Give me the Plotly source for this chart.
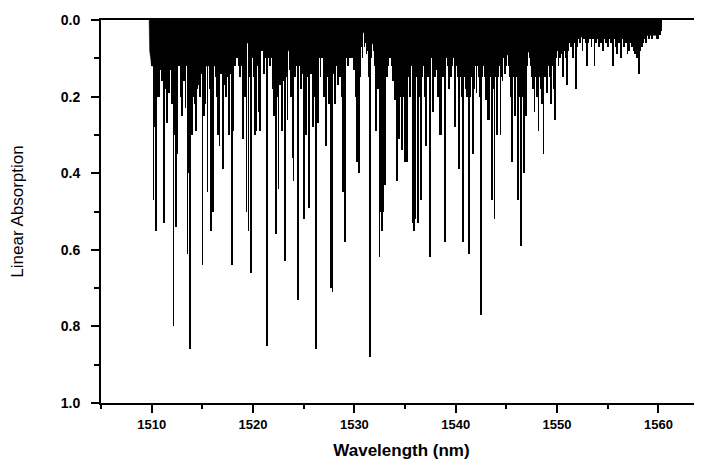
import plotly.graph_objects as go

# Absorption lines: wavelength (nm) and linear absorption depth
line_wl = [
    1509.95, 1510.05, 1510.18, 1510.30, 1510.42, 1510.50, 1510.58, 1510.70, 1510.84, 1511.00,
    1511.12, 1511.24, 1511.38, 1511.50, 1511.62, 1511.73, 1511.85, 1512.00, 1512.16, 1512.28,
    1512.39, 1512.55, 1512.70, 1512.85, 1512.98, 1513.10, 1513.22, 1513.34, 1513.45, 1513.54,
    1513.70, 1513.82, 1513.95, 1514.12, 1514.25, 1514.37, 1514.50, 1514.65, 1514.79, 1514.90,
    1515.02, 1515.15, 1515.30, 1515.40, 1515.51, 1515.62, 1515.72, 1515.85, 1515.96, 1516.08,
    1516.20, 1516.35, 1516.46, 1516.57, 1516.70, 1516.85, 1517.00, 1517.12, 1517.30, 1517.45,
    1517.56, 1517.66, 1517.80, 1517.92, 1518.05, 1518.20, 1518.30, 1518.40, 1518.55, 1518.65,
    1518.75, 1518.90, 1519.04, 1519.20, 1519.36, 1519.56, 1519.68, 1519.80, 1519.95, 1520.10,
    1520.20, 1520.29, 1520.42, 1520.55, 1520.72, 1520.90, 1521.05, 1521.20, 1521.34, 1521.50,
    1521.60, 1521.70, 1521.82, 1521.95, 1522.10, 1522.26, 1522.40, 1522.52, 1522.68, 1522.86,
    1523.00, 1523.15, 1523.28, 1523.41, 1523.60, 1523.75, 1523.90, 1524.00, 1524.12, 1524.20,
    1524.32, 1524.44, 1524.56, 1524.65, 1524.75, 1524.85, 1524.95, 1525.06, 1525.23, 1525.35,
    1525.49, 1525.60, 1525.70, 1525.80, 1525.90, 1526.05, 1526.20, 1526.32, 1526.44, 1526.55,
    1526.66, 1526.77, 1526.87, 1526.97, 1527.08, 1527.20, 1527.32, 1527.42, 1527.53, 1527.68,
    1527.85, 1527.98, 1528.09, 1528.20, 1528.30, 1528.42, 1528.52, 1528.62, 1528.74, 1528.85,
    1528.98, 1529.11, 1529.22, 1529.34, 1529.45, 1529.56, 1529.67, 1529.80, 1529.93, 1530.05,
    1530.15, 1530.26, 1530.43, 1530.55, 1530.66, 1530.80, 1530.99, 1531.10, 1531.20, 1531.30,
    1531.42, 1531.55, 1531.66, 1531.80, 1531.90, 1532.02, 1532.14, 1532.25, 1532.35, 1532.47,
    1532.63, 1532.76, 1532.86, 1532.96, 1533.06, 1533.18, 1533.29, 1533.40, 1533.55, 1533.66,
    1533.78, 1533.90, 1534.01, 1534.11, 1534.21, 1534.32, 1534.44, 1534.55, 1534.67, 1534.78,
    1534.90, 1535.00, 1535.10, 1535.20, 1535.30, 1535.42, 1535.52, 1535.62, 1535.75, 1535.88,
    1536.00, 1536.12, 1536.25, 1536.38, 1536.50, 1536.60, 1536.72, 1536.84, 1536.95, 1537.06,
    1537.18, 1537.30, 1537.46, 1537.58, 1537.72, 1537.85, 1537.95, 1538.06, 1538.18, 1538.28,
    1538.40, 1538.55, 1538.65, 1538.75, 1538.85, 1538.97, 1539.08, 1539.20, 1539.32, 1539.44,
    1539.55, 1539.66, 1539.78, 1539.96, 1540.08, 1540.20, 1540.35, 1540.48, 1540.58, 1540.69,
    1540.80, 1540.92, 1541.05, 1541.15, 1541.28, 1541.40, 1541.52, 1541.67, 1541.80, 1541.92,
    1542.05, 1542.18, 1542.30, 1542.42, 1542.52, 1542.64, 1542.75, 1542.88, 1543.00, 1543.15,
    1543.30, 1543.42, 1543.55, 1543.68, 1543.82, 1543.95, 1544.08, 1544.20, 1544.30, 1544.41,
    1544.52, 1544.62, 1544.75, 1544.86, 1544.98, 1545.10, 1545.22, 1545.32, 1545.43, 1545.54,
    1545.66, 1545.76, 1545.86, 1545.98, 1546.12, 1546.25, 1546.45, 1546.58, 1546.71, 1546.82,
    1546.94, 1547.05, 1547.16, 1547.28, 1547.40, 1547.52, 1547.64, 1547.77, 1547.90, 1548.02,
    1548.16, 1548.28, 1548.40, 1548.52, 1548.66, 1548.78, 1548.90, 1549.02, 1549.14, 1549.26,
    1549.41, 1549.54, 1549.66, 1549.78, 1549.90, 1550.02, 1550.15, 1550.28, 1550.40, 1550.56,
    1550.70, 1550.85, 1550.98, 1551.12, 1551.25, 1551.40, 1551.55, 1551.70, 1551.88, 1552.00,
    1552.15, 1552.30, 1552.50, 1552.65, 1552.80, 1552.93, 1553.10, 1553.25, 1553.40, 1553.55,
    1553.69, 1553.85, 1554.00, 1554.15, 1554.30, 1554.50, 1554.65, 1554.80, 1555.00, 1555.15,
    1555.30, 1555.50, 1555.65, 1555.80, 1555.95, 1556.10, 1556.30, 1556.45, 1556.60, 1556.80,
    1556.95, 1557.10, 1557.25, 1557.40, 1557.55, 1557.70, 1557.85, 1558.06, 1558.20, 1558.35,
    1558.50, 1558.65, 1558.80, 1558.95, 1559.10, 1559.25, 1559.40, 1559.55, 1559.70, 1559.85,
    1560.00, 1560.15, 1560.25,
]
line_depth = [
    0.06, 0.12, 0.47, 0.28, 0.55, 0.20, 0.13, 0.20, 0.13, 0.16,
    0.10, 0.53, 0.18, 0.27, 0.14, 0.19, 0.13, 0.22, 0.80, 0.30,
    0.54, 0.35, 0.12, 0.20, 0.25, 0.15, 0.16, 0.23, 0.12, 0.61,
    0.40, 0.86, 0.30, 0.20, 0.22, 0.29, 0.18, 0.17, 0.20, 0.14,
    0.64, 0.25, 0.22, 0.12, 0.45, 0.10, 0.18, 0.55, 0.15, 0.50,
    0.09, 0.15, 0.20, 0.30, 0.33, 0.14, 0.39, 0.17, 0.20, 0.15,
    0.12, 0.30, 0.14, 0.64, 0.29, 0.12, 0.10, 0.08, 0.10, 0.12,
    0.15, 0.12, 0.31, 0.20, 0.50, 0.55, 0.15, 0.66, 0.10, 0.15,
    0.30, 0.29, 0.12, 0.24, 0.29, 0.08, 0.14, 0.10, 0.85, 0.10,
    0.08, 0.12, 0.10, 0.18, 0.25, 0.56, 0.20, 0.44, 0.17, 0.29,
    0.16, 0.63, 0.15, 0.26, 0.13, 0.20, 0.36, 0.42, 0.15, 0.08,
    0.12, 0.73, 0.12, 0.08, 0.18, 0.08, 0.14, 0.52, 0.30, 0.15,
    0.49, 0.10, 0.14, 0.12, 0.28, 0.20, 0.86, 0.12, 0.27, 0.10,
    0.15, 0.10, 0.08, 0.20, 0.12, 0.33, 0.10, 0.15, 0.22, 0.70,
    0.71, 0.14, 0.22, 0.10, 0.12, 0.17, 0.10, 0.15, 0.20, 0.45,
    0.15, 0.58, 0.10, 0.12, 0.08, 0.10, 0.08, 0.10, 0.13, 0.12,
    0.20, 0.37, 0.40, 0.15, 0.07, 0.10, 0.07, 0.06, 0.09, 0.08,
    0.15, 0.88, 0.10, 0.04, 0.08, 0.12, 0.29, 0.12, 0.18, 0.62,
    0.50, 0.55, 0.50, 0.20, 0.43, 0.15, 0.12, 0.08, 0.10, 0.12,
    0.16, 0.12, 0.21, 0.15, 0.42, 0.15, 0.31, 0.20, 0.34, 0.15,
    0.20, 0.37, 0.15, 0.37, 0.10, 0.15, 0.20, 0.12, 0.53, 0.55,
    0.52, 0.15, 0.53, 0.20, 0.10, 0.47, 0.15, 0.12, 0.20, 0.33,
    0.12, 0.15, 0.62, 0.10, 0.24, 0.12, 0.15, 0.10, 0.13, 0.20,
    0.30, 0.30, 0.10, 0.15, 0.12, 0.58, 0.10, 0.12, 0.18, 0.10,
    0.15, 0.12, 0.10, 0.28, 0.12, 0.15, 0.39, 0.15, 0.20, 0.58,
    0.15, 0.12, 0.18, 0.20, 0.61, 0.20, 0.15, 0.35, 0.18, 0.12,
    0.19, 0.12, 0.15, 0.20, 0.77, 0.15, 0.12, 0.15, 0.21, 0.26,
    0.26, 0.15, 0.47, 0.18, 0.52, 0.15, 0.30, 0.15, 0.12, 0.30,
    0.15, 0.16, 0.10, 0.14, 0.12, 0.08, 0.12, 0.15, 0.20, 0.37,
    0.15, 0.10, 0.25, 0.15, 0.47, 0.20, 0.59, 0.20, 0.40, 0.15,
    0.25, 0.12, 0.08, 0.10, 0.12, 0.15, 0.18, 0.24, 0.15, 0.20,
    0.29, 0.15, 0.18, 0.22, 0.35, 0.15, 0.12, 0.19, 0.12, 0.15,
    0.22, 0.12, 0.18, 0.26, 0.10, 0.08, 0.12, 0.10, 0.09, 0.15,
    0.08, 0.10, 0.17, 0.08, 0.06, 0.07, 0.10, 0.06, 0.18, 0.07,
    0.05, 0.06, 0.08, 0.05, 0.06, 0.12, 0.06, 0.05, 0.07, 0.05,
    0.12, 0.06, 0.05, 0.07, 0.06, 0.08, 0.05, 0.06, 0.07, 0.05,
    0.06, 0.12, 0.05, 0.07, 0.09, 0.06, 0.10, 0.05, 0.07, 0.06,
    0.09, 0.08, 0.06, 0.07, 0.08, 0.09, 0.10, 0.14, 0.08, 0.07,
    0.06, 0.05, 0.06, 0.04, 0.05, 0.04, 0.05, 0.04, 0.04, 0.05,
    0.05, 0.04, 0.03,
]

# Envelope of the solid, unresolved absorption near the baseline
band_wl = [1509.75, 1509.8, 1510, 1511, 1512, 1513, 1514, 1515, 1516, 1517, 1518, 1519,
           1520, 1521, 1522, 1523, 1524, 1525, 1526, 1527, 1528, 1529, 1530, 1531,
           1532, 1533, 1534, 1535, 1536, 1537, 1538, 1539, 1540, 1541, 1542, 1543,
           1544, 1545, 1546, 1547, 1548, 1549, 1550, 1551, 1552, 1553, 1554, 1555,
           1556, 1557, 1558, 1559, 1560, 1560.3]
band_depth = [0.0, 0.08, 0.12, 0.12, 0.10, 0.10, 0.10, 0.12, 0.12, 0.12, 0.08, 0.06,
              0.06, 0.05, 0.10, 0.10, 0.06, 0.06, 0.08, 0.05, 0.09, 0.05, 0.06, 0.03,
              0.07, 0.09, 0.08, 0.10, 0.07, 0.08, 0.09, 0.08, 0.10, 0.10, 0.08, 0.12,
              0.10, 0.09, 0.10, 0.08, 0.10, 0.08, 0.07, 0.05, 0.04, 0.05, 0.03, 0.04,
              0.03, 0.04, 0.05, 0.04, 0.04, 0.0]

x_ticks = [1510, 1520, 1530, 1540, 1550, 1560]
y_ticks = [0.0, 0.2, 0.4, 0.6, 0.8, 1.0]

FONT = "Liberation Sans, Arial, sans-serif"

fig = go.Figure()
fig.add_trace(go.Scatter(
    x=band_wl, y=band_depth, mode="lines", fill="tozeroy",
    line=dict(color="black", width=0.5), fillcolor="black",
    showlegend=False, hoverinfo="skip",
))
fig.add_trace(go.Bar(
    x=line_wl, y=line_depth, width=0.08,
    marker=dict(color="black", line=dict(width=0)),
    showlegend=False,
))

# the page body adds an 8 px offset, so the figure is sized and placed to compensate
fig.update_layout(
    width=694, height=452,
    margin=dict(l=93, r=0, t=12, b=57),
    paper_bgcolor="white", plot_bgcolor="white",
    font=dict(family=FONT, color="black"),
    bargap=0,
)
fig.update_xaxes(
    range=[1505, 1564.3], automargin=False,
    tickvals=x_ticks, ticktext=[str(v) for v in x_ticks],
    ticks="outside", ticklen=8, tickwidth=2, tickcolor="black",
    minor=dict(dtick=5, tick0=1505, ticks="outside", ticklen=4, tickwidth=2, tickcolor="black"),
    showline=True, linewidth=2, linecolor="black", mirror=True,
    showgrid=False, zeroline=False,
    tickfont=dict(family=FONT, size=13, color="black", weight="bold"),
    title=dict(text="Wavelength (nm)", font=dict(family=FONT, size=17, color="black", weight="bold"), standoff=15),
)
fig.update_yaxes(
    range=[1.0, 0.0], automargin=False,
    tickvals=y_ticks, ticktext=[f"{v:.1f}" for v in y_ticks],
    ticks="outside", ticklen=8, tickwidth=2, tickcolor="black",
    minor=dict(dtick=0.1, tick0=0, ticks="outside", ticklen=5, tickwidth=2, tickcolor="black"),
    showline=True, linewidth=2, linecolor="black", mirror=True,
    showgrid=False, zeroline=False,
    ticklabelstandoff=8,
    tickfont=dict(family=FONT, size=14, color="black", weight="bold"),
    title=dict(text="Linear Absorption", font=dict(family=FONT, size=17, color="black"), standoff=34),
)

fig.write_html("out.html")
